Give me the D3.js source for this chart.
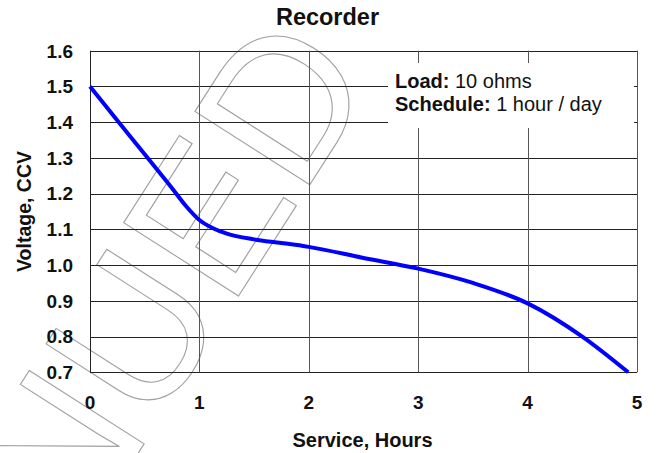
<!DOCTYPE html>
<html>
<head>
<meta charset="utf-8">
<script src="https://cdn.jsdelivr.net/npm/d3@7"></script>
<style>
  html, body { margin: 0; padding: 0; background: #fff; }
  svg { display: block; font-family: "Liberation Sans", Arial, sans-serif; }
</style>
</head>
<body>
<svg id="chart" width="657" height="453"></svg>
<script>
// ---- data ----
const hours   = [0, 0.25, 0.5, 0.75, 0.875, 1.0, 1.125, 1.25, 1.5, 1.75, 2.0, 2.5, 3.0, 3.5, 4.0, 4.5, 4.92];
const voltage = [1.50, 1.405, 1.31, 1.215, 1.166, 1.126, 1.103, 1.088, 1.072, 1.062, 1.051, 1.02, 0.99, 0.95, 0.893, 0.80, 0.70];
const xTicks  = [0, 1, 2, 3, 4, 5];
const yTicks  = [0.7, 0.8, 0.9, 1.0, 1.1, 1.2, 1.3, 1.4, 1.5, 1.6];
const title   = "Recorder";
const xLabel  = "Service, Hours";
const yLabel  = "Voltage, CCV";
const legendLines = [["Load:", " 10 ohms"], ["Schedule:", " 1 hour / day"]];
const watermark = "DISCONTINUED";

// ---- layout ----
const W = 657, H = 453;
const m = { left: 90, right: 20, top: 50.7, bottom: 80.7 };
const svg = d3.select("#chart");

const x = d3.scaleLinear().domain([0, 5]).range([m.left, W - m.right]);
const y = d3.scaleLinear().domain([0.7, 1.6]).range([H - m.bottom, m.top]);

// watermark (outlined text)
svg.append("text")
  .attr("transform", "translate(378,78) rotate(-57.4)")
  .attr("text-anchor", "end")
  .attr("font-size", 198)
  .attr("fill", "none")
  .attr("stroke", "#a0a0a0")
  .attr("stroke-width", 1.1)
  .text(watermark);

const g = svg.append("g");

// horizontal grid
g.selectAll("line.h").data(yTicks).enter().append("line")
  .attr("x1", x(0)).attr("x2", x(5))
  .attr("y1", d => Math.round(y(d)) + 0.5).attr("y2", d => Math.round(y(d)) + 0.5)
  .attr("stroke", "#222").attr("stroke-width", 1);

// vertical grid
g.selectAll("line.v").data(xTicks).enter().append("line")
  .attr("y1", y(0.7)).attr("y2", y(1.6))
  .attr("x1", d => Math.round(x(d)) + 0.5).attr("x2", d => Math.round(x(d)) + 0.5)
  .attr("stroke", d => (d === 0 ? "#222" : "#555")).attr("stroke-width", 1);

// legend box (white, covers grid)
const lg = svg.append("g");
lg.append("rect")
  .attr("x", 388).attr("y", 63).attr("width", 246).attr("height", 65)
  .attr("fill", "#fff");
legendLines.forEach((ln, i) => {
  const t = lg.append("text")
    .attr("x", 395).attr("y", 87.5 + i * 23)
    .attr("font-size", 20).attr("fill", "#111");
  t.append("tspan").attr("font-weight", "bold").text(ln[0]);
  t.append("tspan").text(ln[1]);
});

// curve
const line = d3.line()
  .x((d, i) => x(hours[i]))
  .y(d => y(d))
  .curve(d3.curveMonotoneX);
svg.append("path")
  .attr("d", line(voltage))
  .attr("fill", "none")
  .attr("stroke", "#0000ff")
  .attr("stroke-width", 4)
  .attr("stroke-linejoin", "round");

// y tick labels
svg.selectAll("text.yt").data(yTicks).enter().append("text")
  .attr("x", 73).attr("y", d => y(d)).attr("dy", "0.36em")
  .attr("text-anchor", "end").attr("font-size", 19).attr("font-weight", "bold")
  .attr("fill", "#111")
  .text(d => d.toFixed(1));

// x tick labels
svg.selectAll("text.xt").data(xTicks).enter().append("text")
  .attr("x", d => x(d)).attr("y", 409)
  .attr("text-anchor", "middle").attr("font-size", 19).attr("font-weight", "bold")
  .attr("fill", "#111")
  .text(d => d);

// axis titles
svg.append("text")
  .attr("x", (x(0) + x(5)) / 2 - 1).attr("y", 447)
  .attr("text-anchor", "middle").attr("font-size", 20).attr("font-weight", "bold")
  .attr("fill", "#111").text(xLabel);

svg.append("text")
  .attr("transform", `translate(31,${(y(0.7) + y(1.6)) / 2}) rotate(-90)`)
  .attr("text-anchor", "middle").attr("font-size", 19.5).attr("font-weight", "bold")
  .attr("fill", "#111").text(yLabel);

// title
svg.append("text")
  .attr("x", 327.5).attr("y", 25)
  .attr("text-anchor", "middle").attr("font-size", 23.5).attr("font-weight", "bold")
  .attr("fill", "#111").text(title);
</script>
</body>
</html>
